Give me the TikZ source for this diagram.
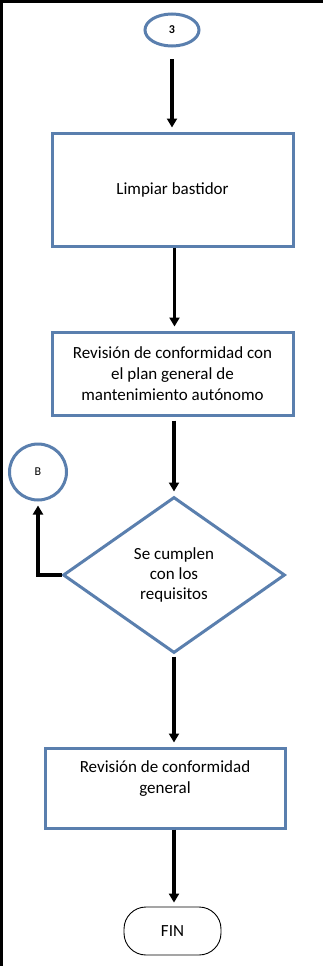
\documentclass[tikz,border=0pt]{standalone}
\usepackage{fontspec}
\setmainfont{Carlito}
\usetikzlibrary{shapes.geometric,arrows.meta}
\definecolor{bluebd}{HTML}{5A7FAE}
\tikzset{
  procbox/.style={draw=bluebd, line width=3pt, fill=white, align=center, font=\fontsize{17}{21}\selectfont},
  conn/.style={ellipse, draw=bluebd, line width=3pt, fill=white, font=\fontsize{12}{14}\selectfont},
  flow/.style={line width=3.5pt, -{Triangle[length=9pt,width=10pt]}, shorten >=4pt},
}
\begin{document}
\begin{tikzpicture}[x=1pt,y=-1pt]
\fill[black] (0,0) rectangle (323,966);
\fill[white] (3,3) rectangle (323,966);
\useasboundingbox (0,0) rectangle (323,966);
\node[conn, minimum width=54pt, minimum height=32pt, inner sep=0pt] (c3) at (172,30) {\textbf{3}};
\node[procbox, minimum width=241pt, minimum height=113pt] (b1) at (172.5,189.5) {Limpiar bastidor};
\node[procbox, minimum width=241pt, minimum height=83pt, inner sep=0pt] (b2) at (172.5,373.5) {Revisión de conformidad con\\el plan general de\\mantenimiento autónomo};
\node[diamond, draw=bluebd, line width=3pt, fill=white, minimum width=222pt, minimum height=156pt, inner sep=0pt, align=center, font=\fontsize{17}{20}\selectfont] (d) at (174,575) {Se cumplen\\con los\\requisitos};
\node[conn, minimum width=57pt, minimum height=56pt, inner sep=0pt] (cb) at (38,472) {B};
\node[procbox, minimum width=240pt, minimum height=80pt, inner sep=0pt] (b3) at (165,788) {Revisión de conformidad\\general\\\mbox{}};
\node[draw=black, line width=0.9pt, rounded corners=22pt, minimum width=97pt, minimum height=48pt, font=\fontsize{17}{20}\selectfont] (fin) at (172.5,931) {FIN};
\draw[flow] (c3.south) ++(0,12) coordinate (s1) -- (s1 |- b1.north);
\draw[flow] ([xshift=2pt]b1.south) coordinate (s2) -- (s2 |- b2.north);
\draw[flow] ([xshift=1.5pt]b2.south) ++(0,4) coordinate (s3) -- (s3 |- d.north);
\draw[flow] (d.west) -| (cb.south);
\draw[flow] (d.south) ++(0,2) coordinate (s5) -- (s5 |- b3.north);
\draw[flow] (d.south |- b3.south) -- (d.south |- fin.north);
\end{tikzpicture}
\end{document}
